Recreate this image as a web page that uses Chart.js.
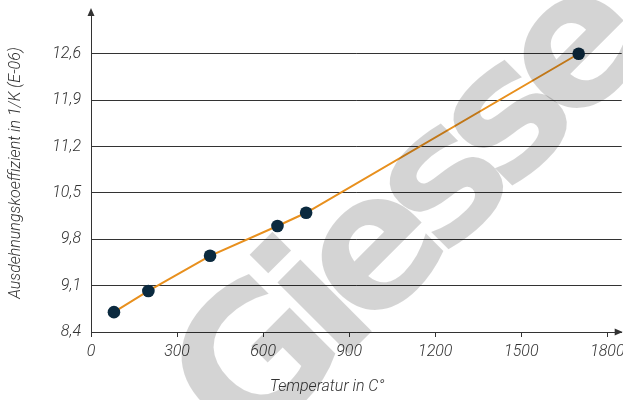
<!DOCTYPE html>
<html>
<head>
<meta charset="utf-8">
<script src="https://cdn.jsdelivr.net/npm/chart.js@4/dist/chart.umd.min.js"></script>
<style>
  html, body { margin: 0; padding: 0; background: #fff; }
</style>
</head>
<body>
<canvas id="chart" width="623" height="400"></canvas>
<script>
// data
const temps = [80, 200, 415, 650, 750, 1700];
const coeffs = [8.7, 9.02, 9.55, 10.0, 10.2, 12.6];
const xTicks = [0, 300, 600, 900, 1200, 1500, 1800];
const yTicks = [8.4, 9.1, 9.8, 10.5, 11.2, 11.9, 12.6];
const xTitle = "Temperatur in C°";
const yTitle = "Ausdehnungskoeffizient in 1/K (E-06)";
const watermark = "Giesse";

const textColor = "#333";
const axisColor = "#333";
const tickFont = { family: "Roboto", size: 16, style: "italic", weight: "300" };

const axesPlugin = {
    id: "axesDeco",
    afterDraw(chart) {
        const ctx = chart.ctx;
        const a = chart.chartArea;
        ctx.save();
        ctx.fillStyle = axisColor;
        // arrow on y axis
        ctx.beginPath();
        ctx.moveTo(a.left, a.top - 6);
        ctx.lineTo(a.left - 3.5, a.top + 2);
        ctx.lineTo(a.left + 3.5, a.top + 2);
        ctx.closePath();
        ctx.fill();
        // arrow on x axis
        ctx.beginPath();
        ctx.moveTo(a.right + 1, a.bottom);
        ctx.lineTo(a.right - 7, a.bottom - 3.5);
        ctx.lineTo(a.right - 7, a.bottom + 3.5);
        ctx.closePath();
        ctx.fill();
        // x axis title
        ctx.fillStyle = textColor;
        ctx.font = "italic 300 16px Roboto";
        ctx.textAlign = "center";
        ctx.textBaseline = "middle";
        ctx.fillText(xTitle, 327, 387);

        // watermark, translucent, over everything
        ctx.translate(445, 258);
        ctx.rotate(-45 * Math.PI / 180);
        ctx.font = "bold 185px 'DejaVu Sans'";
        ctx.letterSpacing = "-20px";
        ctx.fillStyle = "rgba(0,0,0,0.17)";
        ctx.textAlign = "center";
        ctx.textBaseline = "alphabetic";
        ctx.fillText(watermark, 0, 0);
        ctx.restore();
    },
};

new Chart(document.getElementById("chart"), {
    type: "line",
    data: {
        datasets: [
            {
                data: temps.map((t, i) => ({ x: t, y: coeffs[i] })),
                borderColor: "#e8901e",
                borderWidth: 2,
                tension: 0,
                pointRadius: 6.3,
                pointBackgroundColor: "#0b2a3f",
                pointBorderColor: "#0b2a3f",
                pointBorderWidth: 0,
            },
        ],
    },
    options: {
        responsive: false,
        animation: false,
        layout: { autoPadding: false, padding: { top: 14, right: 1.3, left: 0, bottom: 0 } },
        plugins: {
            legend: { display: false },
            tooltip: { enabled: false },
        },
        scales: {
            x: {
                type: "linear",
                min: 0,
                max: 1850,
                afterBuildTicks: (s) => { s.ticks = xTicks.map((v) => ({ value: v })); },
                afterFit: (s) => {
                    s.height = 68;
                    s.paddingLeft = 0;
                    s.paddingRight = 0;
                },
                grid: {
                    drawOnChartArea: false,
                    drawTicks: true,
                    tickLength: 5,
                    color: axisColor,
                },
                border: { color: axisColor, width: 1 },
                ticks: {
                    color: textColor,
                    font: tickFont,
                    padding: 5,
                    maxRotation: 0,
                    callback: (v) => String(v),
                },
            },
            y: {
                type: "linear",
                min: 8.4,
                max: 13.2,
                afterBuildTicks: (s) => { s.ticks = yTicks.map((v) => ({ value: v })); },
                afterFit: (s) => {
                    s.width = 91;
                    s.paddingTop = 0;
                    s.paddingBottom = 0;
                },
                grid: {
                    drawTicks: false,
                    color: axisColor,
                    lineWidth: 1,
                },
                border: { color: axisColor, width: 1 },
                ticks: {
                    color: textColor,
                    font: tickFont,
                    padding: 10,
                    callback: (v) => v.toFixed(1).replace(".", ","),
                },
                title: {
                    display: true,
                    text: yTitle,
                    color: textColor,
                    font: { family: "Roboto", size: 16, style: "italic", weight: "300" },
                    padding: { top: 6, bottom: 0 },
                },
            },
        },
    },
    plugins: [axesPlugin],
});
</script>
</body>
</html>
